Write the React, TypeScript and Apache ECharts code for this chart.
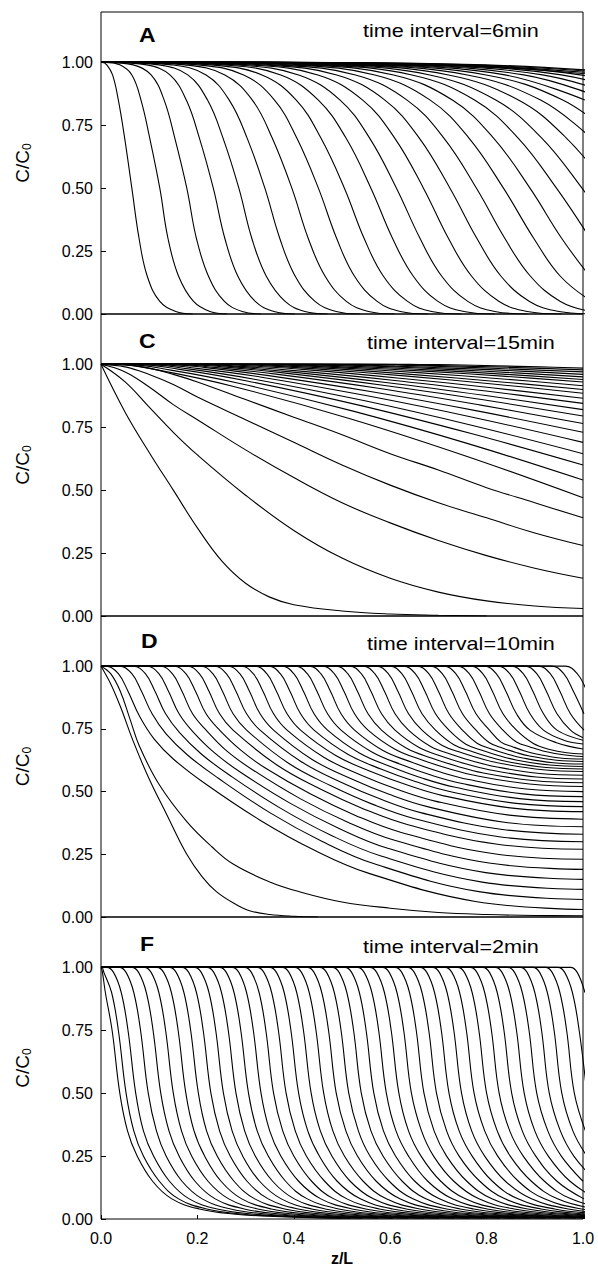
import React, { useEffect, useRef } from "react";
import * as echarts from "echarts";

// ---------- data ----------
// Panel A (time interval = 6 min): z/L positions where each profile crosses these C/C0 levels
const LEVELS_A = [1, 0.99, 0.95, 0.85, 0.7, 0.5, 0.3, 0.15, 0.05, 0.01, 0];
const A_CURVES = [
  [0.003, 0.012, 0.024, 0.036, 0.049, 0.064, 0.079, 0.096, 0.122, 0.155, 0.19],
  [0.01, 0.039, 0.064, 0.083, 0.101, 0.122, 0.139, 0.161, 0.192, 0.226, 0.262],
  [0.012, 0.067, 0.104, 0.131, 0.153, 0.178, 0.198, 0.223, 0.256, 0.293, 0.332],
  [0.023, 0.095, 0.143, 0.177, 0.204, 0.233, 0.257, 0.284, 0.32, 0.359, 0.402],
  [0.035, 0.12, 0.18, 0.221, 0.253, 0.286, 0.313, 0.343, 0.382, 0.423, 0.47],
  [0.047, 0.146, 0.218, 0.266, 0.303, 0.34, 0.371, 0.403, 0.444, 0.488, 0.538],
  [0.061, 0.174, 0.257, 0.314, 0.355, 0.396, 0.43, 0.465, 0.509, 0.555, 0.609],
  [0.075, 0.201, 0.296, 0.36, 0.406, 0.451, 0.489, 0.526, 0.573, 0.621, 0.679],
  [0.087, 0.228, 0.334, 0.405, 0.456, 0.505, 0.546, 0.586, 0.636, 0.686, 0.748],
  [0.101, 0.255, 0.373, 0.451, 0.508, 0.56, 0.605, 0.648, 0.699, 0.753, 0.817],
  [0.112, 0.28, 0.41, 0.496, 0.557, 0.613, 0.662, 0.707, 0.761, 0.817, 0.885],
  [0.126, 0.308, 0.45, 0.543, 0.609, 0.669, 0.721, 0.769, 0.826, 0.884, 0.956],
  [0.14, 0.335, 0.489, 0.589, 0.66, 0.724, 0.78, 0.83, 0.889, 0.95, 1.025],
  [0.153, 0.363, 0.528, 0.635, 0.711, 0.779, 0.838, 0.891, 0.953, 1.016],
  [0.168, 0.391, 0.568, 0.683, 0.763, 0.835, 0.898, 0.953, 1.018],
  [0.181, 0.418, 0.607, 0.729, 0.814, 0.89, 0.956, 1.014],
  [0.195, 0.445, 0.645, 0.775, 0.865, 0.945, 1.015],
  [0.206, 0.47, 0.682, 0.819, 0.914, 0.998, 1.072],
  [0.219, 0.498, 0.721, 0.866, 0.965, 1.053],
  [0.233, 0.525, 0.76, 0.912, 1.016],
  [0.246, 0.552, 0.799, 0.958, 1.067],
  [0.259, 0.579, 0.838, 1.004],
  [0.273, 0.606, 0.877, 1.051],
  [0.286, 0.634, 0.916, 1.097],
  [0.3, 0.661, 0.955, 1.143],
  [0.313, 0.688, 0.994, 1.189],
  [0.326, 0.715, 1.032],
  [0.34, 0.742, 1.071],
  [0.353, 0.77, 1.11],
  [0.367, 0.797, 1.149],
];

// Panel C (time interval = 15 min): [z/L, C/C0] points along each profile
const C_CURVES = [
  [[0, 1], [0.05, 0.81], [0.1, 0.65], [0.15, 0.5], [0.2, 0.35], [0.25, 0.22], [0.3, 0.13], [0.35, 0.075], [0.4, 0.045], [0.5, 0.02], [0.6, 0.008], [0.7, 0.003], [0.8, 0]],
  [[0, 1], [0.05, 0.93], [0.1, 0.83], [0.15, 0.73], [0.2, 0.64], [0.3, 0.48], [0.4, 0.34], [0.5, 0.23], [0.6, 0.15], [0.7, 0.095], [0.8, 0.06], [0.9, 0.04], [1, 0.03]],
  [[0, 1], [0.05, 0.97], [0.1, 0.91], [0.15, 0.84], [0.2, 0.78], [0.3, 0.66], [0.4, 0.55], [0.5, 0.45], [0.6, 0.37], [0.7, 0.3], [0.8, 0.24], [0.9, 0.19], [1, 0.15]],
  [[0, 1], [0.05, 0.99], [0.1, 0.96], [0.15, 0.92], [0.2, 0.87], [0.3, 0.78], [0.4, 0.69], [0.5, 0.6], [0.6, 0.52], [0.7, 0.45], [0.8, 0.39], [0.9, 0.33], [1, 0.28]],
  [[0, 1], [0.05, 0.998], [0.1, 0.985], [0.15, 0.96], [0.2, 0.93], [0.3, 0.86], [0.4, 0.79], [0.5, 0.72], [0.6, 0.645], [0.7, 0.58], [0.8, 0.51], [0.9, 0.45], [1, 0.39]],
  [[0, 1], [0.03, 1], [0.127, 0.974], [0.273, 0.913], [0.515, 0.785], [0.758, 0.635], [1, 0.47]],
  [[0, 1], [0.05, 1], [0.145, 0.977], [0.288, 0.924], [0.525, 0.813], [0.763, 0.684], [1, 0.54]],
  [[0, 1], [0.07, 1], [0.163, 0.98], [0.303, 0.934], [0.535, 0.838], [0.768, 0.725], [1, 0.6]],
  [[0, 1], [0.09, 1], [0.181, 0.982], [0.318, 0.941], [0.545, 0.856], [0.773, 0.756], [1, 0.645]],
  [[0, 1], [0.11, 1], [0.199, 0.984], [0.333, 0.949], [0.555, 0.874], [0.778, 0.787], [1, 0.69]],
  [[0, 1], [0.13, 1], [0.217, 0.987], [0.348, 0.955], [0.565, 0.89], [0.783, 0.814], [1, 0.73]],
  [[0, 1], [0.15, 1], [0.235, 0.988], [0.363, 0.961], [0.575, 0.905], [0.788, 0.838], [1, 0.765]],
  [[0, 1], [0.17, 1], [0.253, 0.99], [0.378, 0.966], [0.585, 0.917], [0.793, 0.859], [1, 0.795]],
  [[0, 1], [0.19, 1], [0.271, 0.991], [0.393, 0.97], [0.595, 0.927], [0.798, 0.876], [1, 0.82]],
  [[0, 1], [0.21, 1], [0.289, 0.992], [0.408, 0.974], [0.605, 0.937], [0.803, 0.893], [1, 0.845]],
  [[0, 1], [0.24, 1], [0.316, 0.993], [0.43, 0.978], [0.62, 0.945], [0.81, 0.907], [1, 0.865]],
  [[0, 1], [0.27, 1], [0.343, 0.994], [0.453, 0.981], [0.635, 0.953], [0.818, 0.921], [1, 0.885]],
  [[0, 1], [0.3, 1], [0.37, 0.995], [0.475, 0.984], [0.65, 0.959], [0.825, 0.931], [1, 0.9]],
  [[0, 1], [0.33, 1], [0.397, 0.996], [0.498, 0.986], [0.665, 0.966], [0.833, 0.942], [1, 0.915]],
  [[0, 1], [0.36, 1], [0.424, 0.997], [0.52, 0.988], [0.68, 0.972], [0.84, 0.952], [1, 0.93]],
  [[0, 1], [0.4, 1], [0.46, 0.997], [0.55, 0.99], [0.7, 0.976], [0.85, 0.959], [1, 0.94]],
  [[0, 1], [0.44, 1], [0.496, 0.998], [0.58, 0.992], [0.72, 0.98], [0.86, 0.966], [1, 0.95]],
  [[0, 1], [0.48, 1], [0.532, 0.998], [0.61, 0.993], [0.74, 0.984], [0.87, 0.973], [1, 0.96]],
  [[0, 1], [0.53, 1], [0.577, 0.999], [0.648, 0.995], [0.765, 0.988], [0.883, 0.979], [1, 0.97]],
  [[0, 1], [0.58, 1], [0.622, 0.999], [0.685, 0.996], [0.79, 0.991], [0.895, 0.985], [1, 0.978]],
  [[0, 1], [0.64, 1], [0.676, 0.999], [0.73, 0.998], [0.82, 0.994], [0.91, 0.99], [1, 0.985]],
];

// Panel D (time interval = 10 min): [z/L, C/C0] points along each profile
const D_CURVES = [
  [[0, 1], [0.02, 0.93], [0.04, 0.84], [0.067, 0.7], [0.1, 0.55], [0.136, 0.41], [0.178, 0.25], [0.21, 0.16], [0.24, 0.1], [0.28, 0.05], [0.31, 0.024], [0.35, 0.01], [0.4, 0.003], [0.45, 0]],
  [[0, 1], [0.02, 0.97], [0.04, 0.9], [0.06, 0.79], [0.08, 0.68], [0.12, 0.53], [0.178, 0.38], [0.23, 0.28], [0.275, 0.21], [0.35, 0.14], [0.413, 0.1], [0.5, 0.06], [0.6, 0.035], [0.7, 0.018], [0.8, 0.01], [0.9, 0.006], [1, 0.005]],
  [[0, 1], [0.011, 1], [0.036, 0.97], [0.056, 0.9], [0.08, 0.8], [0.11, 0.71], [0.15, 0.63], [0.218, 0.529], [0.33, 0.386], [0.441, 0.268], [0.553, 0.176], [0.777, 0.062], [1, 0.03]],
  [[0, 1], [0.039, 1], [0.064, 0.97], [0.084, 0.9], [0.106, 0.81], [0.135, 0.73], [0.18, 0.645], [0.242, 0.555], [0.351, 0.415], [0.459, 0.301], [0.567, 0.212], [0.784, 0.101], [1, 0.07]],
  [[0, 1], [0.067, 1], [0.092, 0.97], [0.112, 0.9], [0.134, 0.81], [0.163, 0.735], [0.208, 0.65], [0.267, 0.565], [0.372, 0.434], [0.476, 0.327], [0.581, 0.243], [0.791, 0.139], [1, 0.11]],
  [[0, 1], [0.095, 1], [0.12, 0.97], [0.14, 0.9], [0.162, 0.81], [0.19, 0.74], [0.235, 0.655], [0.291, 0.575], [0.393, 0.453], [0.494, 0.353], [0.595, 0.274], [0.798, 0.177], [1, 0.15]],
  [[0, 1], [0.123, 1], [0.148, 0.97], [0.168, 0.9], [0.19, 0.81], [0.218, 0.745], [0.262, 0.66], [0.316, 0.585], [0.414, 0.471], [0.511, 0.379], [0.609, 0.306], [0.805, 0.215], [1, 0.19]],
  [[0, 1], [0.151, 1], [0.176, 0.97], [0.196, 0.9], [0.218, 0.81], [0.246, 0.745], [0.29, 0.665], [0.34, 0.595], [0.435, 0.49], [0.529, 0.404], [0.623, 0.337], [0.812, 0.253], [1, 0.23]],
  [[0, 1], [0.179, 1], [0.204, 0.97], [0.224, 0.9], [0.246, 0.81], [0.274, 0.745], [0.365, 0.606], [0.456, 0.509], [0.546, 0.43], [0.637, 0.368], [0.819, 0.291], [1, 0.27]],
  [[0, 1], [0.207, 1], [0.232, 0.97], [0.252, 0.9], [0.274, 0.81], [0.302, 0.745], [0.389, 0.613], [0.477, 0.523], [0.564, 0.449], [0.651, 0.392], [0.826, 0.32], [1, 0.3]],
  [[0, 1], [0.235, 1], [0.26, 0.97], [0.28, 0.9], [0.302, 0.81], [0.33, 0.745], [0.414, 0.621], [0.498, 0.537], [0.581, 0.469], [0.665, 0.415], [0.833, 0.349], [1, 0.33]],
  [[0, 1], [0.263, 1], [0.288, 0.97], [0.308, 0.9], [0.33, 0.81], [0.358, 0.745], [0.438, 0.628], [0.519, 0.551], [0.599, 0.488], [0.679, 0.439], [0.84, 0.377], [1, 0.36]],
  [[0, 1], [0.291, 1], [0.316, 0.97], [0.336, 0.9], [0.358, 0.81], [0.386, 0.745], [0.463, 0.636], [0.54, 0.565], [0.617, 0.507], [0.693, 0.462], [0.847, 0.406], [1, 0.39]],
  [[0, 1], [0.319, 1], [0.344, 0.97], [0.364, 0.9], [0.386, 0.81], [0.414, 0.745], [0.487, 0.644], [0.561, 0.579], [0.634, 0.527], [0.707, 0.485], [0.854, 0.434], [1, 0.42]],
  [[0, 1], [0.347, 1], [0.372, 0.97], [0.392, 0.9], [0.414, 0.81], [0.442, 0.745], [0.512, 0.649], [0.582, 0.589], [0.652, 0.54], [0.721, 0.501], [0.861, 0.453], [1, 0.44]],
  [[0, 1], [0.375, 1], [0.4, 0.97], [0.42, 0.9], [0.442, 0.81], [0.47, 0.745], [0.536, 0.654], [0.603, 0.598], [0.669, 0.552], [0.735, 0.517], [0.868, 0.472], [1, 0.46]],
  [[0, 1], [0.403, 1], [0.428, 0.97], [0.448, 0.9], [0.47, 0.81], [0.498, 0.745], [0.561, 0.659], [0.624, 0.607], [0.686, 0.565], [0.749, 0.532], [0.875, 0.491], [1, 0.48]],
  [[0, 1], [0.431, 1], [0.456, 0.97], [0.476, 0.9], [0.498, 0.81], [0.526, 0.745], [0.585, 0.664], [0.645, 0.617], [0.704, 0.578], [0.763, 0.548], [0.882, 0.51], [1, 0.5]],
  [[0, 1], [0.459, 1], [0.484, 0.97], [0.504, 0.9], [0.526, 0.81], [0.554, 0.745], [0.61, 0.669], [0.666, 0.626], [0.722, 0.591], [0.777, 0.564], [0.889, 0.53], [1, 0.52]],
  [[0, 1], [0.487, 1], [0.512, 0.97], [0.532, 0.9], [0.554, 0.81], [0.582, 0.745], [0.634, 0.673], [0.687, 0.633], [0.739, 0.601], [0.791, 0.575], [0.896, 0.544], [1, 0.535]],
  [[0, 1], [0.515, 1], [0.54, 0.97], [0.56, 0.9], [0.582, 0.81], [0.61, 0.745], [0.659, 0.677], [0.708, 0.64], [0.756, 0.611], [0.805, 0.587], [0.903, 0.558], [1, 0.55]],
  [[0, 1], [0.543, 1], [0.568, 0.97], [0.588, 0.9], [0.61, 0.81], [0.638, 0.745], [0.683, 0.681], [0.729, 0.647], [0.774, 0.62], [0.819, 0.599], [0.91, 0.572], [1, 0.565]],
  [[0, 1], [0.571, 1], [0.596, 0.97], [0.616, 0.9], [0.638, 0.81], [0.666, 0.745], [0.708, 0.684], [0.75, 0.654], [0.791, 0.63], [0.833, 0.611], [0.917, 0.587], [1, 0.58]],
  [[0, 1], [0.599, 1], [0.624, 0.97], [0.644, 0.9], [0.666, 0.81], [0.694, 0.745], [0.732, 0.687], [0.771, 0.659], [0.809, 0.636], [0.847, 0.618], [0.924, 0.596], [1, 0.59]],
  [[0, 1], [0.627, 1], [0.652, 0.97], [0.672, 0.9], [0.694, 0.81], [0.722, 0.745], [0.757, 0.689], [0.792, 0.664], [0.826, 0.643], [0.861, 0.626], [0.931, 0.606], [1, 0.6]],
  [[0, 1], [0.655, 1], [0.68, 0.97], [0.7, 0.9], [0.722, 0.81], [0.75, 0.745], [0.781, 0.692], [0.813, 0.668], [0.844, 0.649], [0.875, 0.634], [0.938, 0.615], [1, 0.61]],
  [[0, 1], [0.683, 1], [0.708, 0.97], [0.728, 0.9], [0.75, 0.81], [0.778, 0.745], [0.806, 0.695], [0.834, 0.673], [0.861, 0.656], [0.889, 0.642], [0.945, 0.625], [1, 0.62]],
  [[0, 1], [0.711, 1], [0.736, 0.97], [0.756, 0.9], [0.778, 0.81], [0.806, 0.745], [0.83, 0.697], [0.855, 0.678], [0.879, 0.662], [0.903, 0.65], [0.952, 0.634], [1, 0.63]],
  [[0, 1], [0.739, 1], [0.764, 0.97], [0.784, 0.9], [0.806, 0.81], [0.834, 0.745], [0.862, 0.698], [0.89, 0.678], [0.917, 0.662], [0.959, 0.647], [1, 0.64]],
  [[0, 1], [0.767, 1], [0.792, 0.97], [0.812, 0.9], [0.834, 0.81], [0.862, 0.745], [0.897, 0.692], [0.931, 0.668], [0.966, 0.655], [1, 0.65]],
  [[0, 1], [0.795, 1], [0.82, 0.97], [0.84, 0.9], [0.862, 0.81], [0.89, 0.745], [0.945, 0.695], [1, 0.67]],
  [[0, 1], [0.823, 1], [0.848, 0.97], [0.868, 0.9], [0.89, 0.81], [0.918, 0.745], [0.96, 0.705], [1, 0.69]],
  [[0, 1], [0.851, 1], [0.876, 0.97], [0.896, 0.9], [0.918, 0.81], [0.946, 0.745], [1, 0.705]],
  [[0, 1], [0.879, 1], [0.904, 0.97], [0.924, 0.9], [0.946, 0.81], [0.974, 0.745], [1, 0.715]],
  [[0, 1], [0.907, 1], [0.932, 0.97], [0.952, 0.9], [0.974, 0.81], [1.002, 0.745]],
  [[0, 1], [0.935, 1], [0.96, 0.97], [0.98, 0.9], [1.002, 0.81]],
  [[0, 1], [0.963, 1], [0.988, 0.97], [1.008, 0.9]],
];

// Panel F (time interval = 2 min): z/L positions where each profile crosses these C/C0 levels
const LEVELS_F = [1, 0.98, 0.9, 0.75, 0.5, 0.35, 0.25, 0.15, 0.08, 0.04, 0.02, 0.01, 0.003];
const F_CURVES = [
  [0.001, 0.003, 0.009, 0.023, 0.039, 0.055, 0.075, 0.107, 0.147, 0.204, 0.274, 0.359, 0.499],
  [0.002, 0.006, 0.022, 0.036, 0.052, 0.068, 0.088, 0.121, 0.161, 0.219, 0.29, 0.376, 0.518],
  [0.012, 0.026, 0.042, 0.056, 0.072, 0.088, 0.109, 0.142, 0.183, 0.241, 0.313, 0.4, 0.543],
  [0.038, 0.052, 0.068, 0.082, 0.098, 0.115, 0.135, 0.168, 0.21, 0.269, 0.342, 0.43, 0.575],
  [0.064, 0.078, 0.094, 0.108, 0.124, 0.141, 0.162, 0.195, 0.237, 0.297, 0.37, 0.46, 0.606],
  [0.09, 0.104, 0.12, 0.134, 0.15, 0.167, 0.188, 0.222, 0.265, 0.325, 0.399, 0.489, 0.638],
  [0.116, 0.13, 0.146, 0.16, 0.176, 0.193, 0.215, 0.249, 0.292, 0.353, 0.428, 0.519, 0.67],
  [0.142, 0.156, 0.172, 0.186, 0.202, 0.219, 0.241, 0.276, 0.319, 0.381, 0.457, 0.549, 0.701],
  [0.168, 0.182, 0.198, 0.212, 0.228, 0.246, 0.268, 0.303, 0.347, 0.409, 0.486, 0.579, 0.733],
  [0.194, 0.208, 0.224, 0.238, 0.254, 0.272, 0.294, 0.329, 0.374, 0.437, 0.515, 0.609, 0.764],
  [0.22, 0.234, 0.25, 0.264, 0.28, 0.298, 0.32, 0.356, 0.401, 0.465, 0.544, 0.639, 0.796],
  [0.246, 0.26, 0.276, 0.29, 0.306, 0.324, 0.347, 0.383, 0.428, 0.493, 0.572, 0.669, 0.828],
  [0.272, 0.286, 0.302, 0.316, 0.332, 0.35, 0.373, 0.41, 0.456, 0.521, 0.601, 0.699, 0.859],
  [0.298, 0.312, 0.328, 0.342, 0.358, 0.377, 0.4, 0.437, 0.483, 0.549, 0.63, 0.729, 0.891],
  [0.324, 0.338, 0.354, 0.368, 0.384, 0.403, 0.426, 0.464, 0.51, 0.577, 0.659, 0.758, 0.922],
  [0.35, 0.364, 0.38, 0.394, 0.41, 0.429, 0.453, 0.49, 0.538, 0.605, 0.688, 0.788, 0.954],
  [0.376, 0.39, 0.406, 0.42, 0.436, 0.455, 0.479, 0.517, 0.565, 0.633, 0.717, 0.818, 0.986],
  [0.402, 0.416, 0.432, 0.446, 0.462, 0.481, 0.505, 0.544, 0.592, 0.661, 0.746, 0.848, 1.017],
  [0.428, 0.442, 0.458, 0.472, 0.488, 0.508, 0.532, 0.571, 0.62, 0.689, 0.774, 0.878, 1.049],
  [0.454, 0.468, 0.484, 0.498, 0.514, 0.534, 0.558, 0.598, 0.647, 0.717, 0.803, 0.908, 1.08],
  [0.48, 0.494, 0.51, 0.524, 0.54, 0.56, 0.585, 0.625, 0.674, 0.745, 0.832, 0.938, 1.112],
  [0.506, 0.52, 0.536, 0.55, 0.566, 0.586, 0.611, 0.651, 0.702, 0.773, 0.861, 0.968, 1.143],
  [0.532, 0.546, 0.562, 0.576, 0.592, 0.612, 0.638, 0.678, 0.729, 0.801, 0.89, 0.998, 1.175],
  [0.558, 0.572, 0.588, 0.602, 0.618, 0.638, 0.664, 0.705, 0.756, 0.829, 0.919, 1.028],
  [0.584, 0.598, 0.614, 0.628, 0.644, 0.665, 0.69, 0.732, 0.784, 0.857, 0.948, 1.057],
  [0.61, 0.624, 0.64, 0.654, 0.67, 0.691, 0.717, 0.759, 0.811, 0.885, 0.976, 1.087],
  [0.636, 0.65, 0.666, 0.68, 0.696, 0.717, 0.743, 0.786, 0.838, 0.913, 1.005],
  [0.662, 0.676, 0.692, 0.706, 0.722, 0.743, 0.77, 0.812, 0.865, 0.941, 1.034],
  [0.688, 0.702, 0.718, 0.732, 0.748, 0.769, 0.796, 0.839, 0.893, 0.969, 1.063],
  [0.714, 0.728, 0.744, 0.758, 0.774, 0.796, 0.823, 0.866, 0.92, 0.997, 1.092],
  [0.74, 0.754, 0.77, 0.784, 0.8, 0.822, 0.849, 0.893, 0.947, 1.025],
  [0.766, 0.78, 0.796, 0.81, 0.826, 0.848, 0.876, 0.92, 0.975, 1.053],
  [0.792, 0.806, 0.822, 0.836, 0.852, 0.874, 0.902, 0.946, 1.002],
  [0.818, 0.832, 0.848, 0.862, 0.878, 0.9, 0.928, 0.973, 1.029],
  [0.844, 0.858, 0.874, 0.888, 0.904, 0.927, 0.955, 1.0],
  [0.87, 0.884, 0.9, 0.914, 0.93, 0.953, 0.981, 1.027],
  [0.896, 0.91, 0.926, 0.94, 0.956, 0.979, 1.008],
  [0.922, 0.936, 0.952, 0.966, 0.982, 1.005],
  [0.948, 0.962, 0.978, 0.992, 1.008],
  [0.974, 0.988, 1.004],
];

const PANEL_LETTERS = ["A", "C", "D", "F"];
const PANEL_NOTES = ["time interval=6min", "time interval=15min", "time interval=10min", "time interval=2min"];
const X_AXIS_NAME = "z/L";

// ---------- layout ----------
const GRID_LEFT = 101;
const GRID_WIDTH = 482;
const GRID_TOPS = [12, 314, 616, 917];
const GRID_HEIGHTS = [302, 302, 301, 302];
const LETTER_POS = [[139, 35.5], [139, 341], [141, 641], [140, 944]];
const NOTE_POS = [[363, 31], [367, 343], [367, 644], [363, 947]];
const FONT = '"Liberation Sans", Arial, Helvetica, sans-serif';

function fromLevels(levels: number[], zs: number[]) {
  const pts: number[][] = [[0, 1]];
  zs.forEach((z, i) => pts.push([z, levels[i]]));
  return pts;
}

export default function App() {
  const ref = useRef<HTMLDivElement>(null);
  useEffect(() => {
    if (!ref.current) return;
    const chart = echarts.init(ref.current, undefined, { renderer: "svg" });
    const panels: number[][][][] = [
      A_CURVES.map((c) => fromLevels(LEVELS_A, c)),
      C_CURVES,
      D_CURVES,
      F_CURVES.map((c) => fromLevels(LEVELS_F, c)),
    ];
    const grid = GRID_TOPS.map((t, i) => ({
      left: GRID_LEFT,
      width: GRID_WIDTH,
      top: t,
      height: GRID_HEIGHTS[i],
      show: true,
      borderColor: "#000",
      borderWidth: 1,
      backgroundColor: "transparent",
    }));
    const xAxis = GRID_TOPS.map((_, i) => ({
      type: "value",
      gridIndex: i,
      min: 0,
      max: 1,
      interval: 0.2,
      axisLine: { show: false },
      splitLine: { show: false },
      axisTick: { show: i === 3, inside: true, length: 4, lineStyle: { color: "#000" } },
      axisLabel: {
        show: i === 3,
        margin: 11,
        color: "#000",
        fontFamily: FONT,
        fontSize: 16,
        formatter: (v: number) => v.toFixed(1),
      },
      name: i === 3 ? X_AXIS_NAME : "",
      nameLocation: "middle",
      nameGap: 31,
      nameTextStyle: { fontFamily: FONT, fontSize: 16, fontWeight: "bold", color: "#000" },
    }));
    const yAxis = GRID_TOPS.map((_, i) => ({
      type: "value",
      gridIndex: i,
      min: 0,
      max: 1.2,
      interval: 0.25,
      axisLine: { show: false },
      splitLine: { show: false },
      axisTick: { show: true, inside: true, length: 5, lineStyle: { color: "#000" } },
      axisLabel: {
        margin: 8,
        color: "#000",
        fontFamily: FONT,
        fontSize: 16,
        showMaxLabel: false,
        formatter: (v: number) => (v > 1.001 ? "" : v.toFixed(2)),
      },
      name: "{a|C/C}{b|0}",
      nameLocation: "middle",
      nameGap: 68,
      nameTextStyle: {
        color: "#000",
        fontFamily: FONT,
        rich: {
          a: { fontSize: 19, fontFamily: FONT, color: "#000", lineHeight: 22 },
          b: { fontSize: 12, fontFamily: FONT, color: "#000", lineHeight: 10, verticalAlign: "bottom" },
        },
      },
    }));
    const series: any[] = [];
    panels.forEach((curves, i) => {
      curves.forEach((pts) => {
        series.push({
          type: "line",
          xAxisIndex: i,
          yAxisIndex: i,
          data: pts,
          showSymbol: false,
          symbol: "none",
          smooth: 0.4,
          clip: true,
          silent: true,
          lineStyle: { color: "#000", width: 1.1 },
        });
      });
    });
    const graphic: any[] = [];
    PANEL_LETTERS.forEach((t, i) => {
      graphic.push({
        type: "text",
        x: LETTER_POS[i][0],
        y: LETTER_POS[i][1],
        scaleX: 1.15,
        silent: true,
        style: {
          text: t,
          font: `bold 20px ${FONT}`,
          fill: "#000",
          textAlign: "left",
          align: "left",
          textVerticalAlign: "middle",
          verticalAlign: "middle",
        },
      });
    });
    PANEL_NOTES.forEach((t, i) => {
      graphic.push({
        type: "text",
        x: NOTE_POS[i][0],
        y: NOTE_POS[i][1],
        scaleX: 1.2,
        silent: true,
        style: {
          text: t,
          font: `18px ${FONT}`,
          fill: "#000",
          textAlign: "left",
          align: "left",
          textVerticalAlign: "middle",
          verticalAlign: "middle",
        },
      });
    });
    chart.setOption({
      animation: false,
      backgroundColor: "#fff",
      grid,
      xAxis,
      yAxis,
      series,
      graphic,
    });
    return () => chart.dispose();
  }, []);
  return (
    <div
      ref={ref}
      style={{ position: "fixed", left: 0, top: 0, width: 598, height: 1274, background: "#fff" }}
    />
  );
}
